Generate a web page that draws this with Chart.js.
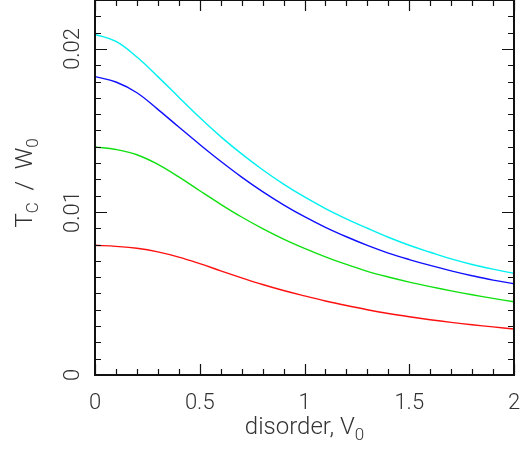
<!DOCTYPE html>
<html>
<head>
<meta charset="utf-8">
<script src="https://cdn.jsdelivr.net/npm/chart.js@4"></script>
<style>
  html, body { margin: 0; padding: 0; background: #fff; }
  #wrap { width: 520px; height: 455px; }
</style>
</head>
<body>
<div id="wrap"><canvas id="tcChart" width="520" height="455"></canvas></div>
<script>
/* ========= DATA ========= */
const disorder = [0, 0.1, 0.2, 0.3, 0.4, 0.5, 0.6, 0.7, 0.8, 0.9, 1.0,
                  1.1, 1.2, 1.3, 1.4, 1.5, 1.6, 1.7, 1.8, 1.9, 2.0];

const tcCyan  = [0.02089, 0.02046, 0.01950, 0.01830, 0.01704, 0.01579, 0.01462, 0.01356, 0.01259, 0.01171, 0.01092,
                 0.01021, 0.00958, 0.00900, 0.00845, 0.00796, 0.00753, 0.00712, 0.00678, 0.00649, 0.00623];
const tcBlue  = [0.01830, 0.01797, 0.01731, 0.01629, 0.01521, 0.01414, 0.01311, 0.01214, 0.01125, 0.01044, 0.00971,
                 0.00906, 0.00848, 0.00795, 0.00748, 0.00708, 0.00672, 0.00639, 0.00609, 0.00582, 0.00560];
const tcGreen = [0.01399, 0.01383, 0.01351, 0.01292, 0.01215, 0.01130, 0.01047, 0.00969, 0.00898, 0.00834, 0.00777,
                 0.00725, 0.00678, 0.00636, 0.00601, 0.00570, 0.00542, 0.00516, 0.00492, 0.00470, 0.00449];
const tcRed   = [0.00796, 0.00789, 0.00777, 0.00755, 0.00723, 0.00683, 0.00639, 0.00596, 0.00555, 0.00518, 0.00485,
                 0.00454, 0.00426, 0.00400, 0.00377, 0.00357, 0.00339, 0.00323, 0.00308, 0.00295, 0.00282];

const xTicks = [0, 0.5, 1, 1.5, 2];
const yTicks = [0, 0.01, 0.02];

const FONT = "'Roboto', 'Liberation Sans', sans-serif";
const TEXT_COLOR = "#333";

function toPoints(ys) {
  return disorder.map((x, i) => ({ x: x, y: ys[i] }));
}

function lineSet(label, ys, color) {
  return {
    label: label,
    data: toPoints(ys),
    borderColor: color,
    borderWidth: 1.4,
    pointRadius: 0,
    fill: false,
    tension: 0.4
  };
}

function noPadding(s) {
  s.paddingLeft = 0; s.paddingRight = 0;
  s.paddingTop = 0; s.paddingBottom = 0;
}

/* ========= FRAME + INWARD TICKS ========= */
const framePlugin = {
  id: "frame",
  afterDatasetsDraw(chart) {
    const { ctx, chartArea: a, scales } = chart;
    const xs = scales.x, ys = scales.y;
    ctx.save();
    ctx.strokeStyle = "#111";
    ctx.lineWidth = 1.2;
    ctx.beginPath();
    // x ticks every 0.1, long at 0.5
    for (let i = 0; i <= 20; i++) {
      const px = Math.round(xs.getPixelForValue(i / 10)) + 0.5;
      const len = i % 5 === 0 ? 11 : 6;
      ctx.moveTo(px, a.bottom); ctx.lineTo(px, a.bottom - len);
      ctx.moveTo(px, a.top); ctx.lineTo(px, a.top + len);
    }
    // y ticks every 0.001, long at 0.01
    for (let i = 0; i <= 22; i++) {
      const py = Math.round(ys.getPixelForValue(i / 1000)) + 0.5;
      const len = i % 10 === 0 ? 12 : 6;
      ctx.moveTo(a.left, py); ctx.lineTo(a.left + len, py);
      ctx.moveTo(a.right, py); ctx.lineTo(a.right - len, py);
    }
    ctx.stroke();
    ctx.lineWidth = 2;
    ctx.strokeRect(a.left, a.top, a.right - a.left, a.bottom - a.top);
    ctx.restore();
  }
};

/* ========= AXIS TITLES (with subscripts) ========= */
function drawSubText(ctx, parts) {
  // parts: [text, isSub]
  let total = 0;
  parts.forEach(p => {
    ctx.font = (p[1] ? "300 17px " : "300 24px ") + FONT;
    total += ctx.measureText(p[0]).width;
  });
  let x = -total / 2;
  parts.forEach(p => {
    ctx.font = (p[1] ? "300 17px " : "300 24px ") + FONT;
    ctx.fillText(p[0], x, p[1] ? 6 : 0);
    x += ctx.measureText(p[0]).width;
  });
}

const titlePlugin = {
  id: "titles",
  afterDraw(chart) {
    const { ctx, chartArea: a } = chart;
    ctx.save();
    ctx.fillStyle = TEXT_COLOR;
    ctx.textBaseline = "alphabetic";
    ctx.textAlign = "left";

    ctx.save();
    ctx.translate((a.left + a.right) / 2, 434);
    drawSubText(ctx, [["disorder, V", false], ["0", true]]);
    ctx.restore();

    ctx.save();
    ctx.translate(32, 183);
    ctx.rotate(-Math.PI / 2);
    drawSubText(ctx, [["T", false], ["C", true], ["  /  W", false], ["0", true]]);
    ctx.restore();

    ctx.restore();
  }
};

/* ========= CHART ========= */
const ctx = document.getElementById("tcChart").getContext("2d");

new Chart(ctx, {
  type: "line",
  data: {
    datasets: [
      lineSet("cyan", tcCyan, "#00f0f0"),
      lineSet("blue", tcBlue, "#1010ff"),
      lineSet("green", tcGreen, "#10e010"),
      lineSet("red", tcRed, "#ff1010")
    ]
  },
  options: {
    responsive: false,
    animation: false,
    layout: { padding: { top: -1, right: 6, left: 0, bottom: 0 } },
    plugins: {
      legend: { display: false },
      tooltip: { enabled: false }
    },
    scales: {
      x: {
        type: "linear",
        min: 0,
        max: 2,
        afterFit(s) { s.height = 80; noPadding(s); },
        afterBuildTicks(s) { s.ticks = xTicks.map(v => ({ value: v })); },
        border: { display: false },
        grid: { display: false, drawTicks: false },
        ticks: {
          padding: 15,
          color: TEXT_COLOR,
          font: { family: FONT, size: 22, weight: 300 },
          maxRotation: 0,
          autoSkip: false,
          callback: v => String(v)
        }
      },
      y: {
        type: "linear",
        min: 0,
        max: 0.023,
        afterFit(s) { s.width = 95; noPadding(s); },
        afterBuildTicks(s) { s.ticks = yTicks.map(v => ({ value: v })); },
        border: { display: false },
        grid: { display: false, drawTicks: false },
        ticks: {
          padding: 1,
          crossAlign: "center",
          minRotation: 90,
          maxRotation: 90,
          color: TEXT_COLOR,
          font: { family: FONT, size: 22, weight: 300 },
          autoSkip: false,
          callback: v => String(v)
        }
      }
    }
  },
  plugins: [framePlugin, titlePlugin]
});
</script>
</body>
</html>
